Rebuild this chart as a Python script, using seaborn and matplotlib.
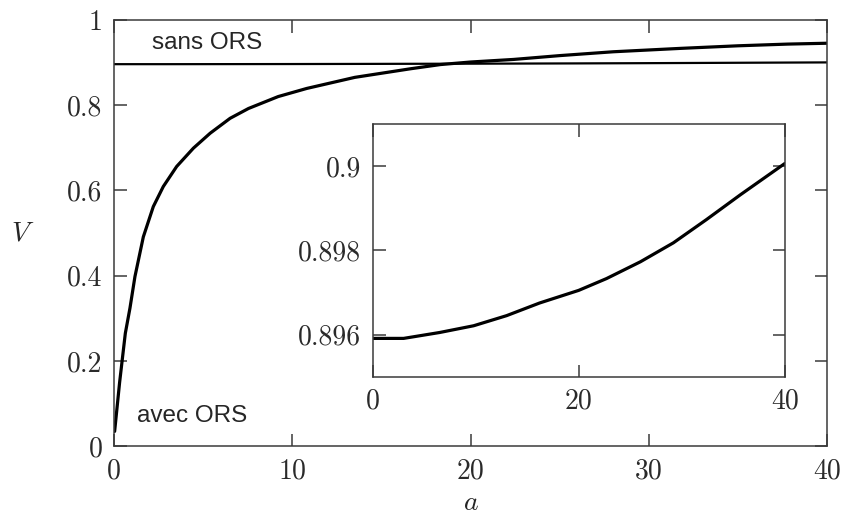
import numpy as np
import pandas as pd
import matplotlib
matplotlib.use("Agg")
import matplotlib.pyplot as plt
import seaborn as sns

# avec ORS (main curve)
a_avec = [0.02, 0.3, 0.62, 0.88, 1.16, 1.63, 2.19, 2.75, 3.5, 4.44, 5.38, 6.5,
          7.53, 9.2, 10.8, 13.5, 16.6, 18.3, 20, 22.4, 25, 28, 31.8, 35, 37.8, 40]
v_avec = [0.035, 0.15, 0.265, 0.324, 0.398, 0.491, 0.562, 0.609, 0.656, 0.699,
          0.734, 0.769, 0.792, 0.82, 0.839, 0.865, 0.885, 0.895, 0.901, 0.907,
          0.916, 0.925, 0.933, 0.939, 0.943, 0.945]

# sans ORS (nearly flat line, zoomed in the inset)
a_sans = [0, 3, 6.5, 9.8, 13, 16.2, 20, 22.7, 26, 29.2, 32.4, 35.7, 40]
v_sans = [0.89591, 0.89591, 0.89605, 0.89621, 0.89645, 0.89675, 0.89705,
          0.89733, 0.89773, 0.89818, 0.89873, 0.89932, 0.90006]

main_xticks = [0, 10, 20, 30, 40]
main_yticks = [0, 0.2, 0.4, 0.6, 0.8, 1]
main_ylabels = ["0", "0.2", "0.4", "0.6", "0.8", "1"]
inset_xticks = [0, 20, 40]
inset_yticks = [0.896, 0.898, 0.9]
inset_ylabels = ["0.896", "0.898", "0.9"]

df_avec = pd.DataFrame({"a": a_avec, "V": v_avec})
df_sans = pd.DataFrame({"a": a_sans, "V": v_sans})

sns.set_style("ticks")
plt.rcParams["font.family"] = ["cmr10", "DejaVu Sans"]
plt.rcParams["mathtext.fontset"] = "cm"
plt.rcParams["axes.formatter.use_mathtext"] = True

spine_col = "#3a3a3a"


def _style_axes(ax, size):
    for s in ax.spines.values():
        s.set_visible(True)
        s.set_linewidth(1.1)
        s.set_color(spine_col)
    ax.tick_params(direction="in", length=9, width=1.1, color=spine_col,
                   top=True, right=True, labelsize=size, pad=8.5,
                   labelcolor="#2a2a2a")


fig = plt.figure(figsize=(8.44, 5.15), dpi=100)
ax = fig.add_axes([0.1354, 0.1334, 0.8446, 0.8282])

sns.lineplot(data=df_avec, x="a", y="V", ax=ax, color="black", linewidth=2.3)
sns.lineplot(data=df_sans, x="a", y="V", ax=ax, color="black", linewidth=1.6)
ax.set_xlim(0, 40)
ax.set_ylim(0, 1)
ax.set_xticks(main_xticks)
ax.set_xticklabels([str(t) for t in main_xticks])
ax.set_yticks(main_yticks)
ax.set_yticklabels(main_ylabels)
_style_axes(ax, 20)
ax.set_xlabel("$a$", fontsize=20, labelpad=4)
ax.set_ylabel("$V$", fontsize=20, rotation=0, labelpad=32, va="center")

ax.text(2.1, 0.946, "sans ORS", family="Liberation Sans", fontsize=17.5,
        va="center", ha="left")
ax.text(1.3, 0.07, "avec ORS", family="Liberation Sans", fontsize=17.5,
        va="center", ha="left")

# inset
axin = fig.add_axes([0.4416, 0.2685, 0.4881, 0.4907])
sns.lineplot(data=df_sans, x="a", y="V", ax=axin, color="black", linewidth=2.3)
axin.set_xlim(0, 40)
axin.set_ylim(0.895, 0.901)
axin.set_xticks(inset_xticks)
axin.set_xticklabels([str(t) for t in inset_xticks])
axin.set_yticks(inset_yticks)
axin.set_yticklabels(inset_ylabels)
_style_axes(axin, 20)
axin.set_xlabel("")
axin.set_ylabel("")

fig.savefig("out.png", dpi=100)
